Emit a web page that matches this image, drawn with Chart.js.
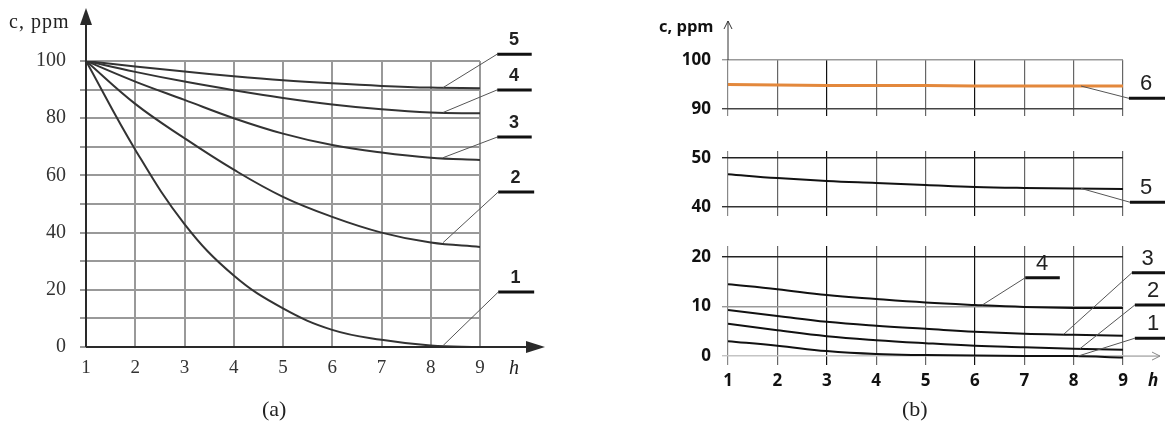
<!DOCTYPE html>
<html>
<head>
<meta charset="utf-8">
<script src="https://cdn.jsdelivr.net/npm/chart.js@4.4.1/dist/chart.umd.min.js"></script>
<style>
  body { margin: 0; background: #fff; width: 1165px; height: 425px; position: relative; overflow: hidden; }
  canvas { position: absolute; top: 0; }
  .t { position: absolute; white-space: nowrap; line-height: 1; color: #222; }
  .serif { font-family: 'Liberation Serif', 'DejaVu Serif', serif; }
  .sans { font-family: 'Open Sans', 'Liberation Sans', sans-serif; font-weight: bold; color: #111; }
</style>
</head>
<body>
<canvas id="ca" width="582" height="425" style="left:0"></canvas>
<canvas id="b1" width="583" height="425" style="left:582px"></canvas>
<canvas id="b2" width="583" height="425" style="left:582px"></canvas>
<canvas id="b3" width="583" height="425" style="left:582px"></canvas>

<div class="t serif" style="left:9px;top:11px;font-size:20px;letter-spacing:1px">c, ppm</div>
<div class="t serif" style="left:509px;top:357px;font-size:20px;font-style:italic">h</div>
<div class="t serif" style="left:262px;top:398px;font-size:22px">(a)</div>
<div class="t sans" style="left:659px;top:18px;font-size:16.5px">c, ppm</div>
<div class="t sans" style="left:1148px;top:371px;font-size:17px;font-style:italic">h</div>
<div class="t serif" style="left:902px;top:398px;font-size:22px">(b)</div>

<script>
// hours on the x axis
var hours = [1, 2, 3, 4, 5, 6, 7, 8, 9];

// panel (a) concentration curves, ppm
var aCurve1 = [100, 69, 43, 25, 13.5, 6, 2.5, 0.5, 0];
var aCurve2 = [100, 85, 73, 62, 52.5, 45.5, 40, 36.5, 35];
var aCurve3 = [100, 92.8, 86.4, 80, 74.6, 70.6, 68, 66.2, 65.4];
var aCurve4 = [100, 96.2, 92.8, 89.8, 87.1, 84.8, 83.1, 82, 81.7];
var aCurve5 = [100, 98.1, 96.3, 94.7, 93.3, 92.2, 91.3, 90.7, 90.5];
var aGrid = [0, 10, 20, 30, 40, 50, 60, 70, 80, 90, 100];
var aYLabels = [0, 20, 40, 60, 80, 100];

// panel (b) concentration curves, ppm
var bCurve6 = [95, 94.9, 94.8, 94.8, 94.8, 94.7, 94.7, 94.7, 94.7];
var bCurve5 = [46.7, 45.9, 45.3, 44.9, 44.5, 44.1, 43.9, 43.8, 43.7];
var bCurve4 = [14.5, 13.5, 12.3, 11.5, 10.8, 10.3, 9.9, 9.7, 9.7];
var bCurve3 = [9.3, 8.1, 6.9, 6.1, 5.5, 4.9, 4.5, 4.3, 4.1];
var bCurve2 = [6.5, 5.2, 4.0, 3.2, 2.6, 2.1, 1.8, 1.5, 1.3];
var bCurve1 = [3.0, 2.1, 1.0, 0.4, 0.2, 0.1, 0, 0, -0.3];
var bTopTicks = [90, 100];
var bMidTicks = [40, 50];
var bLowTicks = [0, 10, 20];

function pts(vals) {
  return hours.map(function (h, i) { return { x: h, y: vals[i] }; });
}
function fixW(w) { return function (s) { s.width = w; }; }
function fixH(h) { return function (s) { s.height = h; }; }
function setTicks(list) { return function (s) { s.ticks = list.map(function (v) { return { value: v }; }); }; }

// leader line + underlined number, positions in data units of the chart
function drawLabels(chart, list, font) {
  var ctx = chart.ctx, xs = chart.scales.x, ys = chart.scales.y;
  ctx.save();
  list.forEach(function (l) {
    var ax = xs.getPixelForValue(l.ax), ay = ys.getPixelForValue(l.ay);
    var u1 = xs.getPixelForValue(l.u1), u2 = xs.getPixelForValue(l.u2), uy = ys.getPixelForValue(l.uy);
    ctx.strokeStyle = '#555'; ctx.lineWidth = 1;
    ctx.beginPath(); ctx.moveTo(ax, ay); ctx.lineTo(u1, uy); ctx.stroke();
    ctx.strokeStyle = '#111'; ctx.lineWidth = 3;
    ctx.beginPath(); ctx.moveTo(u1, uy); ctx.lineTo(u2, uy); ctx.stroke();
    ctx.fillStyle = '#222'; ctx.font = font;
    ctx.textAlign = 'center'; ctx.textBaseline = 'middle';
    ctx.fillText(l.text, xs.getPixelForValue(l.tx), uy - 14);
  });
  ctx.restore();
}

var aLabels = [
  { text: '5', ax: 8.25, ay: aCurve5[7], u1: 9.35, u2: 10.05, uy: 102.4, tx: 9.69 },
  { text: '4', ax: 8.25, ay: aCurve4[7], u1: 9.35, u2: 10.05, uy: 89.9, tx: 9.69 },
  { text: '3', ax: 8.25, ay: aCurve3[7], u1: 9.35, u2: 10.05, uy: 73.4, tx: 9.69 },
  { text: '2', ax: 8.25, ay: aCurve2[7], u1: 9.37, u2: 10.1, uy: 54.2, tx: 9.72 },
  { text: '1', ax: 8.25, ay: aCurve1[7], u1: 9.37, u2: 10.1, uy: 19.2, tx: 9.72 }
];

var axesA = {
  id: 'axesA',
  afterDraw: function (chart) {
    var ctx = chart.ctx, ca = chart.chartArea;
    ctx.save();
    ctx.strokeStyle = '#2a2a2a'; ctx.fillStyle = '#2a2a2a'; ctx.lineWidth = 2;
    ctx.beginPath(); ctx.moveTo(ca.left, ca.bottom); ctx.lineTo(ca.left, 20); ctx.stroke();
    ctx.beginPath(); ctx.moveTo(ca.left, 8); ctx.lineTo(ca.left - 6, 25); ctx.lineTo(ca.left + 6, 25); ctx.closePath(); ctx.fill();
    ctx.beginPath(); ctx.moveTo(ca.left, ca.bottom); ctx.lineTo(530, ca.bottom); ctx.stroke();
    ctx.beginPath(); ctx.moveTo(545, ca.bottom); ctx.lineTo(526, ca.bottom - 6); ctx.lineTo(526, ca.bottom + 6); ctx.closePath(); ctx.fill();
    ctx.restore();
    drawLabels(chart, aLabels, 'bold 18px "Liberation Sans", sans-serif');
  }
};

function lineSet(vals, color, width) {
  return { data: pts(vals), borderColor: color, borderWidth: width, pointRadius: 0,
           tension: 0.4, fill: false };
}

new Chart(document.getElementById('ca'), {
  type: 'line',
  data: { datasets: [
    lineSet(aCurve1, '#333', 2), lineSet(aCurve2, '#333', 2), lineSet(aCurve3, '#333', 2),
    lineSet(aCurve4, '#333', 2), lineSet(aCurve5, '#333', 2)
  ] },
  options: {
    responsive: false, animation: false,
    layout: { padding: { left: 0, top: 61, right: 102, bottom: 48 } },
    plugins: { legend: { display: false }, tooltip: { enabled: false } },
    scales: {
      x: { type: 'linear', min: 1, max: 9, afterFit: fixH(30), afterBuildTicks: setTicks(hours),
           grid: { color: '#999', lineWidth: 2, drawTicks: false }, border: { display: false },
           ticks: { padding: 10, color: '#333', font: { family: 'Liberation Serif', size: 19 } } },
      y: { min: 0, max: 100, afterFit: fixW(86), afterBuildTicks: setTicks(aGrid),
           grid: { color: '#999', lineWidth: 2, tickLength: 6 }, border: { display: false },
           ticks: { padding: 14, color: '#333', font: { family: 'Liberation Serif', size: 20 },
                    callback: function (v) { return aYLabels.indexOf(v) >= 0 ? String(v) : ''; } } }
    }
  },
  plugins: [axesA]
});

// panel (b): three stacked charts sharing the same x layout
var bFont = { family: 'Open Sans', size: 17, weight: 'bold' };
var labelFontB = '22px "Liberation Sans", sans-serif';

function vColor(c) {
  var v = c.tick.value;
  if (v === 1) return '#888';
  if (v === 3 || v === 6) return '#111';
  return '#666';
}

function panelB(id, cfg) {
  new Chart(document.getElementById(id), {
    type: 'line',
    data: { datasets: cfg.sets },
    options: {
      responsive: false, animation: false,
      layout: { padding: { left: 0, top: cfg.top, right: 42, bottom: cfg.bottom } },
      plugins: { legend: { display: false }, tooltip: { enabled: false } },
      scales: {
        x: { type: 'linear', min: 1, max: 9, afterFit: fixH(cfg.xh), afterBuildTicks: setTicks(hours),
             grid: { color: vColor, lineWidth: 1.2, drawTicks: false }, border: { display: false },
             ticks: { display: cfg.xLabels, padding: 6, color: '#111', font: bFont } },
        y: { min: cfg.min, max: cfg.max, afterFit: fixW(146), afterBuildTicks: setTicks(cfg.ticks),
             grid: { color: function (c) { return cfg.gridColors[c.index]; }, lineWidth: 1.4, tickLength: 6 },
             border: { display: false },
             ticks: { padding: 11, color: '#111', font: bFont } }
      }
    },
    plugins: [{ id: 'ann' + id, afterDraw: function (chart) {
      if (cfg.extra) cfg.extra(chart);
      drawLabels(chart, cfg.labels, labelFontB);
    } }]
  });
}

function chevronUp(ctx, x, y) {
  ctx.beginPath(); ctx.moveTo(x - 4, y + 8); ctx.lineTo(x, y); ctx.lineTo(x + 4, y + 8); ctx.stroke();
}

panelB('b1', {
  top: 60, bottom: 309, xh: 0, xLabels: false, min: 88.6, max: 100,
  ticks: bTopTicks, gridColors: ['#444', '#999'],
  sets: [lineSet(bCurve6, '#E3883C', 3)],
  labels: [{ text: '6', ax: 8.15, ay: bCurve6[7], u1: 9.12, u2: 9.9, uy: 92.2, tx: 9.47 }],
  extra: function (chart) {
    var ctx = chart.ctx, x = chart.scales.x.getPixelForValue(1);
    ctx.save(); ctx.strokeStyle = '#333'; ctx.lineWidth = 1;
    ctx.beginPath(); ctx.moveTo(x, chart.chartArea.top); ctx.lineTo(x, 21); ctx.stroke();
    chevronUp(ctx, x, 21);
    ctx.restore();
  }
});

panelB('b2', {
  top: 151, bottom: 209, xh: 0, xLabels: false, min: 38.2, max: 51.4,
  ticks: bMidTicks, gridColors: ['#333', '#222'],
  sets: [lineSet(bCurve5, '#111', 2)],
  labels: [{ text: '5', ax: 8.15, ay: bCurve5[7], u1: 9.14, u2: 9.9, uy: 41.0, tx: 9.47 }]
});

panelB('b3', {
  top: 246, bottom: 30, xh: 30, xLabels: true, min: -1.8, max: 22.2,
  ticks: bLowTicks, gridColors: ['#c4c4c4', '#999', '#222'],
  sets: [lineSet(bCurve4, '#111', 2), lineSet(bCurve3, '#111', 2),
         lineSet(bCurve2, '#111', 2), lineSet(bCurve1, '#111', 2)],
  labels: [
    { text: '4', ax: 6.15, ay: bCurve4[5], u1: 7.02, u2: 7.72, uy: 15.8, tx: 7.36 },
    { text: '3', ax: 7.8, ay: bCurve3[7] + 0.1, u1: 9.18, u2: 9.9, uy: 16.8, tx: 9.5 },
    { text: '2', ax: 8.13, ay: bCurve2[7], u1: 9.24, u2: 9.9, uy: 10.3, tx: 9.61 },
    { text: '1', ax: 8.09, ay: bCurve1[7], u1: 9.24, u2: 9.9, uy: 3.6, tx: 9.61 }
  ],
  extra: function (chart) {
    var ctx = chart.ctx, y = chart.scales.y.getPixelForValue(0), x0 = chart.chartArea.right;
    ctx.save(); ctx.strokeStyle = '#888'; ctx.lineWidth = 1;
    ctx.beginPath(); ctx.moveTo(x0, y); ctx.lineTo(x0 + 37, y); ctx.stroke();
    ctx.beginPath(); ctx.moveTo(x0 + 29, y - 4); ctx.lineTo(x0 + 37, y); ctx.lineTo(x0 + 29, y + 4); ctx.stroke();
    ctx.restore();
  }
});
</script>
</body>
</html>
